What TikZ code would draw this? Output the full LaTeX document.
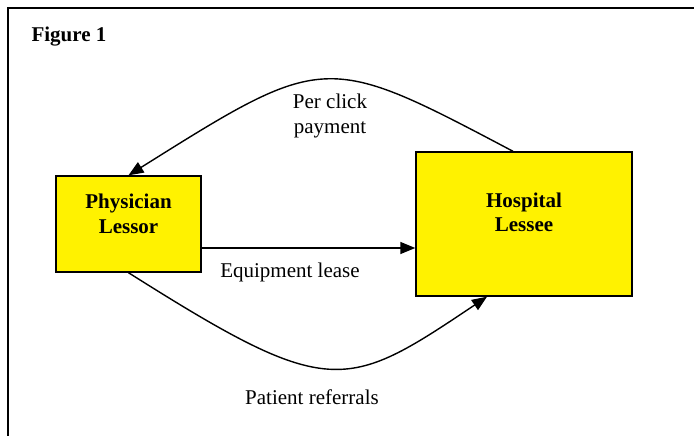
\documentclass[tikz,border=0pt]{standalone}
\usepackage{fontspec}
\setmainfont{Liberation Serif}
\usetikzlibrary{arrows.meta}

\tikzset{
  party/.style={draw=black, line width=1.4pt, fill=yellow, inner sep=0pt},
  partytext/.style={font=\fontsize{21}{24.5}\selectfont\bfseries, align=center},
  flowtext/.style={font=\fontsize{21}{25}\selectfont, align=center},
  flow/.style={line width=1.4pt, -{Triangle[length=15pt,width=12pt]}}
}

\begin{document}
\begin{tikzpicture}[x=1pt, y=-1pt]
\useasboundingbox (0,0) rectangle (694,436);

% Frame, cut off at the right and bottom
\draw[line width=2pt] (8,436) -- (8,8) -- (694,8);

\node[anchor=west, partytext] (fig) at (28,37) {Figure 1};

% The two parties
\node[party, minimum width=145pt, minimum height=96pt] (phys) at (128.5,224) {};
\node[party, minimum width=216pt, minimum height=144pt] (hosp) at (524,224) {};
\node[partytext] (physname) at ([yshift=10pt]phys.center) {Physician\\Lessor};
\node[partytext] (hospname) at ([yshift=11.5pt]hosp.center) {Hospital\\Lessee};

% Flows between them
\draw[flow] ([xshift=-11pt]hosp.north) .. controls (325,52) .. (phys.north);
\draw[flow] ([yshift=-24pt]phys.east) -- ([yshift=-24pt]hosp.west);
\draw[flow] (phys.south) .. controls (330,400) and (345,392) .. ([xshift=-37pt]hosp.south);

% Flow labels
\node[flowtext] (pay) at (330,115.5) {Per click\\payment};
\node[flowtext] (lease) at (290,272) {Equipment lease};
\node[flowtext] (refer) at (312,397) {Patient referrals};

\end{tikzpicture}
\end{document}
